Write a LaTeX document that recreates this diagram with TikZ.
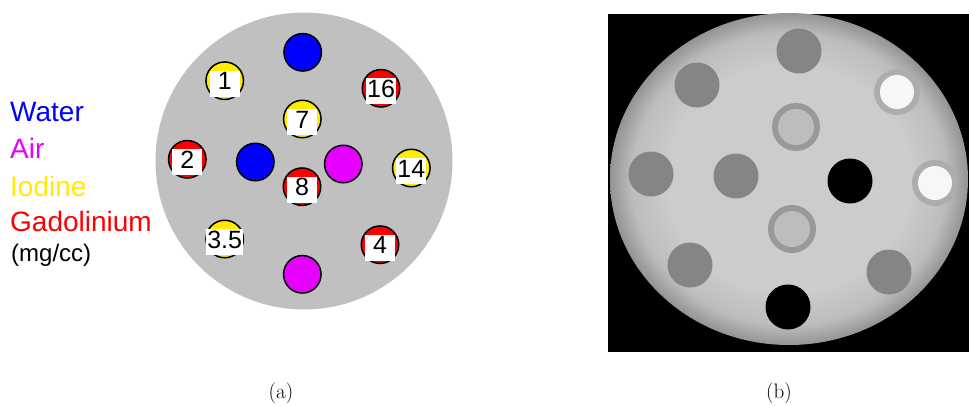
\documentclass[tikz,border=0pt]{standalone}
\usepackage{fontspec}
\setsansfont{Liberation Sans}
\usetikzlibrary{shapes.geometric}

\definecolor{phgray}{RGB}{192,192,192}
\definecolor{waterblue}{RGB}{0,0,255}
\definecolor{airmag}{RGB}{230,0,255}
\definecolor{iodyel}{RGB}{255,236,0}
\definecolor{gadred}{RGB}{255,0,0}
% grey levels of the reconstruction
\definecolor{ctin}{gray}{0.80}
\definecolor{ctedge}{gray}{0.74}
\definecolor{ctout}{gray}{0.58}
\definecolor{ctdark}{gray}{0.52}
\definecolor{ctrim}{gray}{0.60}
\definecolor{ctmid}{gray}{0.74}
\definecolor{ctglow}{gray}{0.68}
\definecolor{ctwhite}{gray}{0.97}
\pgfdeclareradialshading{ctbody}{\pgfpoint{0bp}{0bp}}{color(0bp)=(ctin); color(17bp)=(ctin); color(22bp)=(ctedge); color(25bp)=(ctout); color(50bp)=(ctout)}

\begin{document}
\begin{tikzpicture}[x=1pt, y=-1pt,
        disk/.style={circle, draw, line width=1.5pt, minimum size=37.5, inner sep=0pt},
        numbox/.style={fill=white, anchor=base, inner xsep=1pt, inner ysep=0pt,
                minimum width=30, text height=19, text depth=7,
                font=\sffamily\fontsize{25}{25}\selectfont},
        legend/.style={anchor=base west, inner sep=0pt, font=\sffamily\fontsize{28}{28}\selectfont},
        spot/.style={circle, inner sep=0pt, minimum size=45},
        caption/.style={anchor=base, font=\fontsize{21}{21}\selectfont}
    ]
    \useasboundingbox (0,0) rectangle (969,405);

    % (a) layout of the phantom
    \node[circle, fill=phgray, minimum size=297, inner sep=0pt] (phantom) at (304,161) {};

    % water and air inserts
    \foreach \x/\y/\c [count=\n] in {302.7/52.3/waterblue, 255.3/162/waterblue,
            343.3/164/airmag, 302.3/274.3/airmag} {
            \node[disk, fill=\c] (E\n) at (\x,\y) {};
        }

    % iodine and gadolinium inserts, labelled with the concentration
    \foreach \x/\y/\c/\v [count=\n] in {224.7/80.7/iodyel/1, 302.3/119/iodyel/7,
            411.3/168/iodyel/14, 224.7/239/iodyel/3.5, 381/88.3/gadred/16,
            187.3/159.3/gadred/2, 302/186.7/gadred/8, 380/244.7/gadred/4} {
            \node[disk, fill=\c] (C\n) at (\x,\y) {};
            \node[numbox] (L\n) at ([yshift=-9]C\n.center) {\v};
        }

    % legend
    \node[legend, text=waterblue] (water) at (10,121.7) {Water};
    \node[legend, text=airmag] (air) at (10,158.3) {Air};
    \node[legend, text=iodyel] (iodine) at (10,196) {Iodine};
    \node[legend, text=gadred] (gado) at (10,231.7) {Gadolinium};
    \node[legend, font=\sffamily\fontsize{24}{24}\selectfont] (unit) at (11,261.7) {(mg/cc)};

    % (b) reconstructed slice
    \fill[black] (608,14) rectangle (969,352);
    \node[ellipse, shade, shading=ctbody, minimum width=358, minimum height=332, inner sep=0pt] (body) at (789,179) {};

    % inserts that show up dark grey
    \foreach \x/\y [count=\n] in {799/51, 697/85, 651/174, 736/176, 690/265, 889/272} {
            \node[spot, fill=ctdark] (D\n) at (\x,\y) {};
        }
    % air holes
    \foreach \x/\y [count=\n] in {850/181, 788/307} {
            \node[spot, fill=black] (A\n) at (\x,\y) {};
        }
    % bright inserts with a grey halo
    \foreach \x/\y [count=\n] in {897/92, 935/183} {
            \node[spot, fill=ctglow, minimum size=46] (W\n) at (\x,\y) {};
            \node[spot, fill=ctwhite, minimum size=34] (w\n) at (W\n) {};
        }
    % faint ring inserts
    \foreach \x/\y [count=\n] in {796/127, 792/229} {
            \node[spot, fill=ctrim, minimum size=48] (R\n) at (\x,\y) {};
            \node[spot, fill=ctmid, minimum size=36] (r\n) at (R\n) {};
        }

    % sub captions
    \node[caption] (capa) at (281,398) {(a)};
    \node[caption] (capb) at (779,398) {(b)};
\end{tikzpicture}
\end{document}
